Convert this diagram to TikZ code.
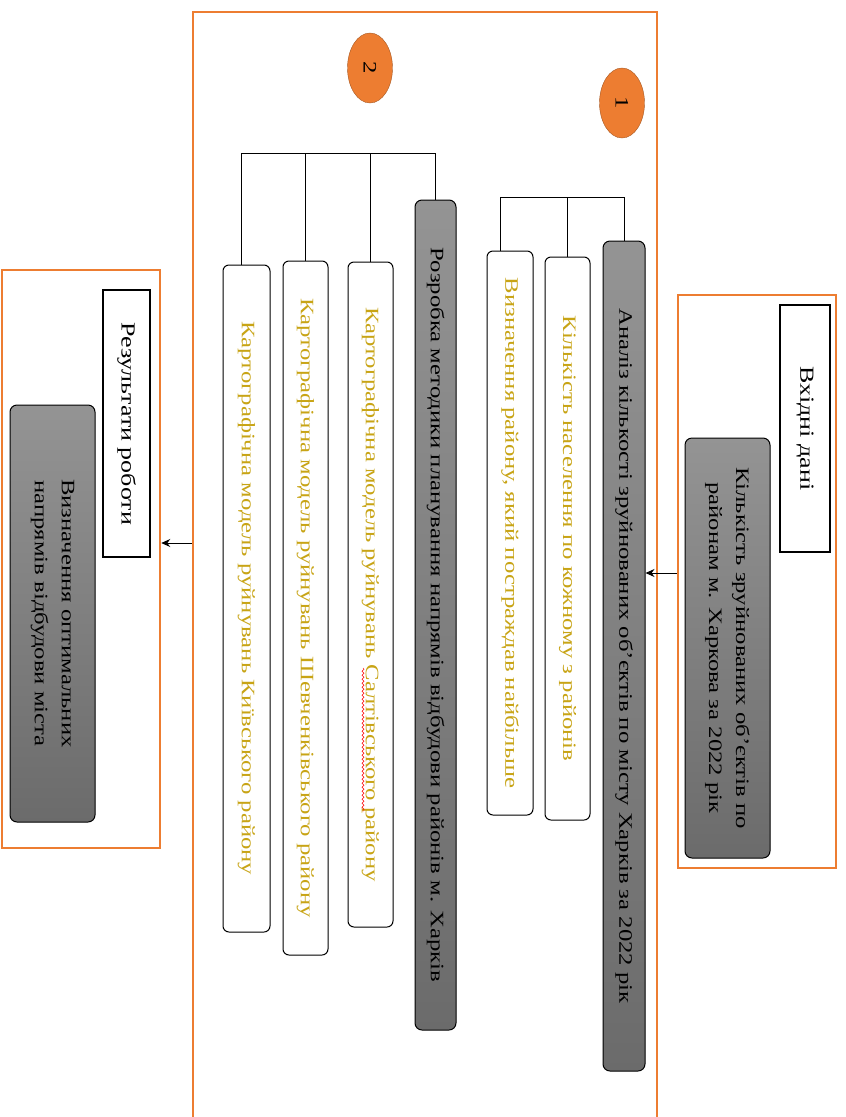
\documentclass[tikz,border=0pt]{standalone}
\usepackage{fontspec}
\setmainfont{Liberation Serif}[FakeStretch=1.3]
\usetikzlibrary{shapes.geometric,arrows.meta,decorations.pathmorphing}
\definecolor{orng}{HTML}{ED7D31}
\definecolor{gld}{HTML}{C8A415}

\begin{document}
\begin{tikzpicture}[x=1pt, y=-1pt,
	every node/.style={font=\fontsize{19}{27}\selectfont, inner sep=0pt, align=center},
	fr/.style={draw=orng, line width=2.5pt},
	g/.style={rotate=-90, draw, line width=1pt, rounded corners=7pt, top color=black!42, bottom color=black!58},
	w/.style={rotate=-90, draw, line width=1pt, rounded corners=6pt, fill=white, text=gld},
	t/.style={rotate=-90, draw, line width=1.8pt, fill=white, font=\fontsize{20}{24}\selectfont},
	n/.style={ellipse, rotate=-90, draw=orng!70!black, fill=orng, minimum width=70pt, minimum height=45pt},
	ln/.style={line width=1pt},
	ar/.style={line width=1pt, -{Stealth[length=9pt, width=8pt]}}]
	\useasboundingbox (0,0) rectangle (846,1117);

	\node[fr, minimum width=158, minimum height=573] (fin) at (757,581.5) {};
	\node[fr, minimum width=464, minimum height=1113] (mid) at (425,568.5) {};
	\node[fr, minimum width=158, minimum height=578] (res) at (81,559) {};

	\node[t, minimum width=247, minimum height=50] (tin) at (805,428.5) {Вхідні дані};
	\node[g, minimum width=420, minimum height=85] (din) at (727.5,648) {Кількість зруйнованих об’єктів по\\районам м. Харкова за 2022 рік};

	\node[n] (n1) at (622,103) {1};
	\node[n] (n2) at (370,68) {2};

	\node[g, minimum width=830, minimum height=42] (an) at (624,656) {Аналіз кількості зруйнованих об’єктів по місту Харків за 2022 рік};
	\node[w, minimum width=563, minimum height=45] (nas) at (567.5,538.5) {Кількість населення по кожному з районів};
	\node[w, minimum width=564, minimum height=46] (viz) at (510,533) {Визначення району, який постраждав найбільше};

	\node[g, minimum width=830, minimum height=41] (roz) at (435.5,615) {Розробка методики планування напрямів відбудови районів м. Харків};
	\node[w, minimum width=665, minimum height=45] (salt) at (370.5,594.5) {Картографічна модель руйнувань Салтівського району};
	\node[w, minimum width=694, minimum height=45] (shev) at (305.5,608) {Картографічна модель руйнувань Шевченківського району};
	\node[w, minimum width=667, minimum height=47] (kyiv) at (246.5,598.5) {Картографічна модель руйнувань Київського району};

	\node[t, minimum width=267, minimum height=47] (tres) at (126.5,423.5) {Результати роботи};
	\node[g, minimum width=417, minimum height=85] (dres) at (52.5,613.5) {Визначення оптимальних\\напрямів відбудови міста};

	\coordinate (k1) at (0,197);
	\coordinate (k2) at (0,153);
	\draw[ln] (an.west) -- (an.west |- k1) -| ([xshift=-10pt]viz.west);
	\draw[ln] (nas.west) -- (nas.west |- k1);
	\draw[ln] (roz.west) -- (roz.west |- k2) -| ([xshift=-5pt]kyiv.west);
	\draw[ln] (salt.west) -- (salt.west |- k2);
	\draw[ln] (shev.west) -- (shev.west |- k2);

	\path ([yshift=8.5pt]fin.west) coordinate (a1);
	\draw[ar] (a1) -- (a1 -| an.north);
	\path ([yshift=25.5pt]mid.west) coordinate (a2);
	\draw[ar] (a2) -- (a2 -| res.east);

	\draw[red, decorate, decoration={snake, amplitude=1pt, segment length=4pt}] (363,668) -- (363,812);
\end{tikzpicture}
\end{document}
